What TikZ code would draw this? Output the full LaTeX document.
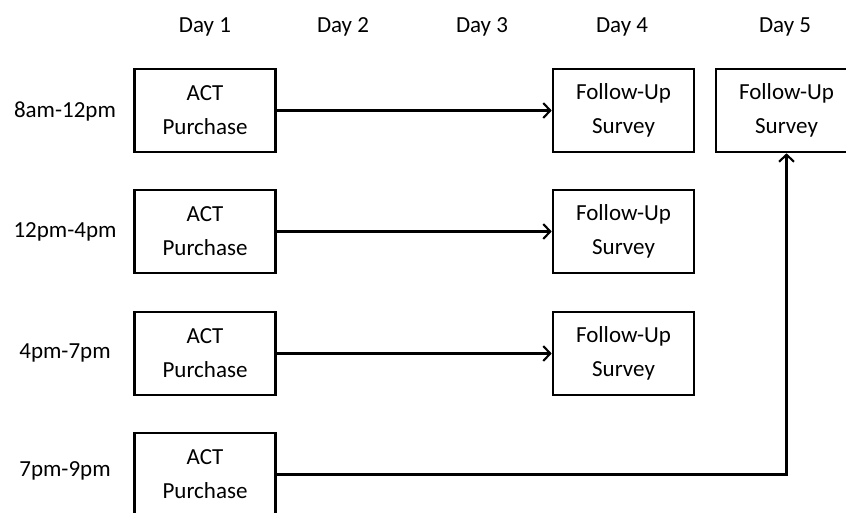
\documentclass[tikz,border=0pt]{standalone}
\usepackage{fontspec}
\setmainfont{Carlito}
\usetikzlibrary{arrows.meta}

\begin{document}
\begin{tikzpicture}[x=1pt,y=-1pt,
        box/.style={shape=rectangle,draw=black,line width=2.6pt,minimum width=141pt,minimum height=83pt,inner sep=0pt,align=center,font=\fontsize{23}{34}\selectfont},
        lbl/.style={font=\fontsize{23}{28}\selectfont},
        link/.style={line width=2.1pt,-{Straight Barb[length=7pt,width=15pt]}}]
        \useasboundingbox (0,0) rectangle (846,512);

        \node[lbl] (d1) at (205,27) {Day 1};
        \node[lbl] (d2) at (343,27) {Day 2};
        \node[lbl] (d3) at (482,27) {Day 3};
        \node[lbl] (d4) at (622,27) {Day 4};
        \node[lbl] (d5) at (785,27) {Day 5};

        \node[lbl] (t1) at (65,111) {8am-12pm};
        \node[lbl] (t2) at (65,232) {12pm-4pm};
        \node[lbl] (t3) at (65,353) {4pm-7pm};
        \node[lbl] (t4) at (65,471) {7pm-9pm};

        \node[box] (p1) at (205,110.5) {ACT\\Purchase};
        \node[box] (p2) at (205,231.5) {ACT\\Purchase};
        \node[box] (p3) at (205,353.5) {ACT\\Purchase};
        \node[box] (p4) at (205,474.5) {ACT\\Purchase};

        \node[box] (s1) at (623.5,110.5) {Follow-Up\\Survey};
        \node[box] (s2) at (623.5,231.5) {Follow-Up\\Survey};
        \node[box] (s3) at (623.5,353.5) {Follow-Up\\Survey};
        \node[box] (s5) at (786.5,110.5) {Follow-Up\\Survey};

        \path[link] (p1) edge (s1);
        \path[link] (p2) edge (s2);
        \path[link] (p3) edge (s3);
        \draw[link] (p4) -| (s5);

    \end{tikzpicture}
\end{document}
